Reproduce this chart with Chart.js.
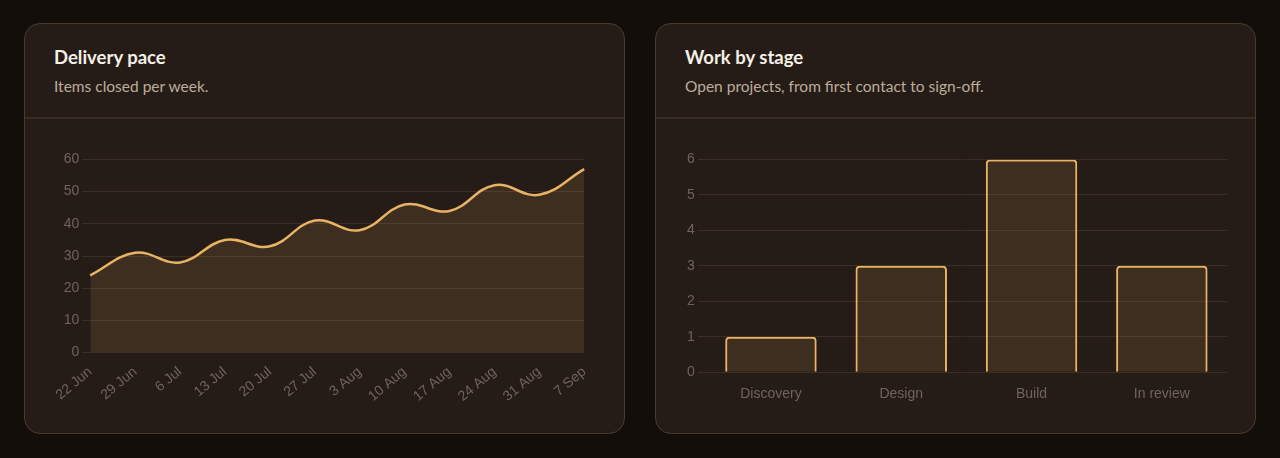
<!DOCTYPE html>
<html>
<head>
<meta charset="utf-8">
<script src="https://cdn.jsdelivr.net/npm/chart.js@4"></script>
<style>
  html, body { margin: 0; padding: 0; }
  body {
    background: #140e0b;
    width: 1280px; height: 458px;
    font-family: Lato, "Open Sans", sans-serif;
    position: relative;
  }
  .card {
    position: absolute; top: 23px;
    width: 601px; height: 411px;
    background: #261c17;
    border: 1px solid #4a3a2c;
    border-radius: 16px;
    box-sizing: border-box;
    overflow: hidden;
  }
  #card-pace { left: 24px; }
  #card-stage { left: 655px; }
  .head {
    height: 95px;
    border-bottom: 2px solid #3a2d23;
    box-sizing: border-box;
    padding: 21px 0 0 29px;
  }
  .head h2 {
    margin: 0; color: #f6efe6;
    font-size: 18.5px; font-weight: 700; line-height: 24px;
  }
  .head p {
    margin: 7px 0 0; color: #bcad9b;
    font-size: 15.5px; font-weight: 400; line-height: 20px;
  }
  .body {
    position: absolute; left: 28px; right: 28px; top: 124px; bottom: 24px;
  }
  #card-pace .body { left: 30px; right: 26px; bottom: 25px; }
</style>
</head>
<body>
<div class="card" id="card-pace">
  <div class="head">
    <h2>Delivery pace</h2>
    <p>Items closed per week.</p>
  </div>
  <div class="body"><canvas id="chart-pace"></canvas></div>
</div>
<div class="card" id="card-stage">
  <div class="head">
    <h2>Work by stage</h2>
    <p>Open projects, from first contact to sign-off.</p>
  </div>
  <div class="body"><canvas id="chart-stage"></canvas></div>
</div>
<script>
const weekLabels = ['22 Jun', '29 Jun', '6 Jul', '13 Jul', '20 Jul', '27 Jul', '3 Aug', '10 Aug', '17 Aug', '24 Aug', '31 Aug', '7 Sep'];
const itemsClosed = [24, 31, 28, 35, 33, 41, 38, 46, 44, 52, 49, 57];

const stageLabels = ['Discovery', 'Design', 'Build', 'In review'];
const openProjects = [1, 3, 6, 3];

const gold = '#eab264';
const tickColor = '#6f635a';
const gridColor = '#3a2e25';

Chart.defaults.font.family = '"Liberation Sans", Arial, sans-serif';
Chart.defaults.font.size = 14;
Chart.defaults.color = tickColor;

const common = {
  responsive: true,
  maintainAspectRatio: false,
  animation: false,
  plugins: { legend: { display: false }, tooltip: { enabled: false } }
};

new Chart(document.getElementById('chart-pace'), {
  type: 'line',
  data: {
    labels: weekLabels,
    datasets: [{
      data: itemsClosed,
      borderColor: gold,
      borderWidth: 2.5,
      backgroundColor: 'rgba(234, 178, 100, 0.12)',
      fill: 'origin',
      tension: 0.4,
      pointRadius: 0
    }]
  },
  options: {
    ...common,
    scales: {
      x: {
        grid: { display: false },
        border: { display: false },
        ticks: { color: tickColor, maxRotation: 40, minRotation: 40, autoSkip: false }
      },
      y: {
        min: 0, max: 60,
        grid: { color: gridColor },
        border: { display: false },
        ticks: { stepSize: 10, color: tickColor }
      }
    }
  }
});

new Chart(document.getElementById('chart-stage'), {
  type: 'bar',
  data: {
    labels: stageLabels,
    datasets: [{
      data: openProjects,
      borderColor: gold,
      borderWidth: 2,
      borderRadius: 4,
      borderSkipped: 'bottom',
      backgroundColor: 'rgba(234, 178, 100, 0.12)',
      barPercentage: 0.78,
      categoryPercentage: 0.9
    }]
  },
  options: {
    ...common,
    scales: {
      x: {
        grid: { display: false },
        border: { display: false },
        ticks: { color: tickColor, padding: 6 }
      },
      y: {
        min: 0, max: 6,
        grid: { color: gridColor },
        border: { display: false },
        ticks: { stepSize: 1, color: tickColor }
      }
    }
  }
});
</script>
</body>
</html>
